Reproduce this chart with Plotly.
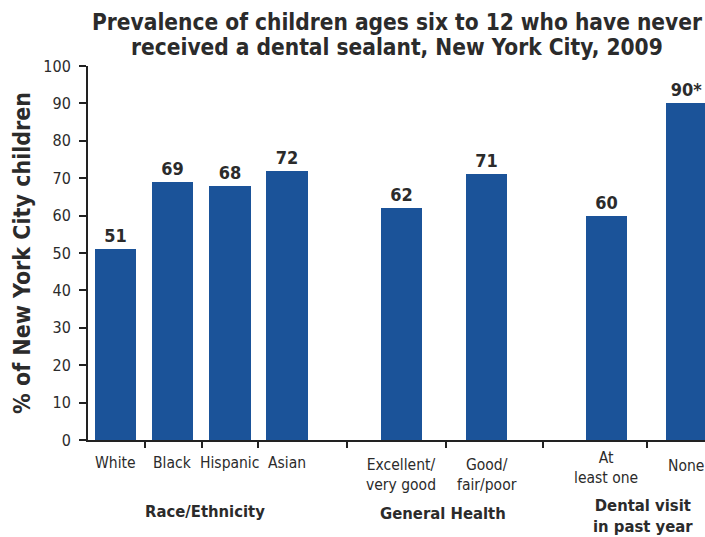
import plotly.graph_objects as go

# Survey results: % of children ages 6-12 who never received a dental sealant
categories = ["White", "Black", "Hispanic", "Asian",
              "Excellent/<br>very good", "Good/<br>fair/poor",
              "At<br>least one", "None"]
values = [51, 69, 68, 72, 62, 71, 60, 90]
value_flags = ["", "", "", "", "", "", "", "*"]
groups = ["Race/Ethnicity", "General Health", "Dental visit<br>in past year"]
y_ticks = [0, 10, 20, 30, 40, 50, 60, 70, 80, 90, 100]
title_lines = ["Prevalence of children ages six to 12 who have never",
               "received a dental sealant, New York City, 2009"]

# Layout: bar slot positions, separators between bars, group label centres
x_pos = [0, 1, 2, 3, 5, 6.5, 8.6, 10]
separators = [0.51, 1.51, 2.49, 4.05, 5.79, 7.49, 9.32]
group_pos = [1.56, 5.74, 9.25]
group_y = [-0.19, -0.196, -0.203]
label_y = [-0.033, -0.033, -0.033, -0.033, -0.037, -0.037, -0.018, -0.04]
title_y = [1.1176, 1.0508]

BLUE = "#1b5399"
TEXT = "#2b2b2b"
FONT = "DejaVu Sans Condensed, Liberation Sans Narrow, Arial Narrow, sans-serif"

fig = go.Figure()
fig.add_trace(go.Bar(
    x=x_pos,
    y=values,
    width=0.72,
    marker=dict(color=BLUE, line=dict(width=0)),
    text=[f"<b>{v}{f}</b>" for v, f in zip(values, value_flags)],
    textposition="outside",
    textfont=dict(family=FONT, size=18, color=TEXT),
    cliponaxis=False,
    hoverinfo="skip",
))

annotations = []
for line, ty in zip(title_lines, title_y):
    annotations.append(dict(
        x=0.5, y=ty, xref="paper", yref="paper", text=f"<b>{line}</b>",
        showarrow=False, xanchor="center", yanchor="middle",
        font=dict(family=FONT, size=22.5, color=TEXT),
    ))
for x, lab, ly in zip(x_pos, categories, label_y):
    annotations.append(dict(
        x=x, y=ly, xref="x", yref="paper", text=lab, showarrow=False,
        xanchor="center", yanchor="top",
        font=dict(family=FONT, size=15.5, color=TEXT),
    ))
for x, g, gy in zip(group_pos, groups, group_y):
    annotations.append(dict(
        x=x, y=gy, xref="x", yref="paper", text=f"<b>{g}</b>",
        showarrow=False, xanchor="center", yanchor="middle",
        font=dict(family=FONT, size=16.5, color=TEXT),
    ))
annotations.append(dict(
    x=-0.107, y=0.5, xref="paper", yref="paper",
    text="<b>% of New York City children</b>", textangle=-90,
    showarrow=False, xanchor="center", yanchor="middle",
    font=dict(family=FONT, size=23, color=TEXT),
))

fig.update_layout(
    width=705, height=537,
    margin=dict(l=88, r=0, t=66, b=97),
    paper_bgcolor="white", plot_bgcolor="white",
    showlegend=False,
    bargap=0,
    xaxis=dict(
        range=[-0.49, 10.33],
        tickmode="array", tickvals=separators,
        ticktext=[""] * len(separators),
        ticks="outside", ticklen=6, tickwidth=2, tickcolor="#222",
        showline=True, linecolor="#222", linewidth=2,
        showgrid=False, zeroline=False, fixedrange=True,
    ),
    yaxis=dict(
        range=[0, 100],
        tickmode="array", tickvals=y_ticks,
        ticks="outside", ticklen=7, tickwidth=2, tickcolor="#222",
        ticklabelstandoff=5,
        tickfont=dict(family=FONT, size=16, color=TEXT),
        showline=True, linecolor="#222", linewidth=2,
        showgrid=False, zeroline=False, fixedrange=True,
    ),
    annotations=annotations,
)

fig.write_html("out.html")
